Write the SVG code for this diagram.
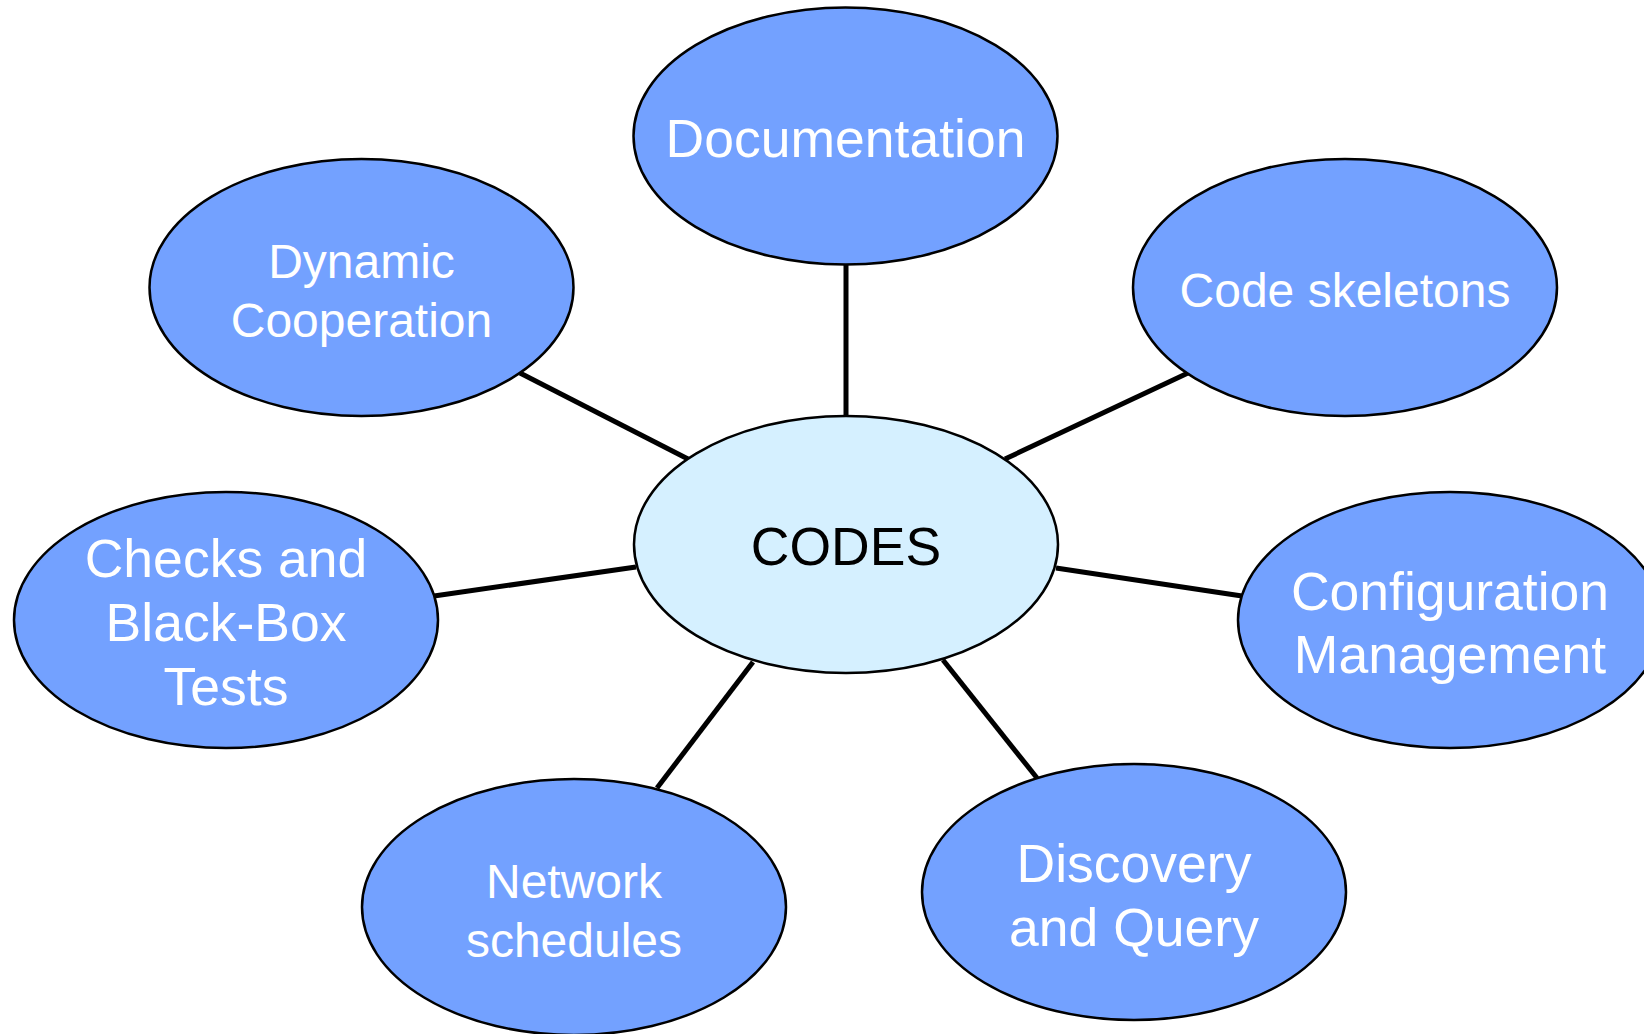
<svg xmlns="http://www.w3.org/2000/svg" width="1644" height="1034" viewBox="0 0 1644 1034">
<style>
.n{fill:#73a1ff;stroke:#000;stroke-width:2.5}
.c{fill:#d5f0ff;stroke:#000;stroke-width:2.5}
.t{font-family:"Liberation Sans",Arial,sans-serif;fill:#fff;text-anchor:middle}
.tc{font-family:"Liberation Sans",Arial,sans-serif;fill:#000;text-anchor:middle;font-size:53.5px}
.l{stroke:#000;stroke-width:5;fill:none}
</style>
<rect width="1644" height="1034" fill="#fff"/>
<g id="connectors">
<line class="l" x1="846" y1="264" x2="846" y2="417"/>
<line class="l" x1="520" y1="373" x2="688" y2="459"/>
<line class="l" x1="1005" y1="459" x2="1188" y2="373"/>
<line class="l" x1="434" y1="596" x2="636" y2="567"/>
<line class="l" x1="1056" y1="568" x2="1242" y2="596"/>
<line class="l" x1="753" y1="662" x2="657" y2="788"/>
<line class="l" x1="943" y1="660" x2="1037" y2="778"/>
</g>
<g id="documentation">
<ellipse class="n" cx="845.5" cy="136" rx="212" ry="128.5"/>
<text class="t" x="845.5" y="157" font-size="53.5">Documentation</text>
</g>
<g id="codes">
<ellipse class="c" cx="846" cy="544.5" rx="212" ry="128.5"/>
<text class="tc" x="846" y="565">CODES</text>
</g>
<g id="dynamic">
<ellipse class="n" cx="361.5" cy="287.5" rx="212" ry="128.5"/>
<text class="t" x="361.5" y="278" font-size="48">Dynamic</text>
<text class="t" x="361.5" y="337" font-size="48">Cooperation</text>
</g>
<g id="skeletons">
<ellipse class="n" cx="1345" cy="287.5" rx="212" ry="128.5"/>
<text class="t" x="1345" y="307" font-size="48">Code skeletons</text>
</g>
<g id="checks">
<ellipse class="n" cx="226" cy="620" rx="212" ry="128"/>
<text class="t" x="226" y="577" font-size="53.5">Checks and</text>
<text class="t" x="226" y="641" font-size="53.5">Black-Box</text>
<text class="t" x="226" y="705" font-size="53.5">Tests</text>
</g>
<g id="configuration">
<ellipse class="n" cx="1450" cy="620" rx="212" ry="128"/>
<text class="t" x="1450" y="610" font-size="53.5">Configuration</text>
<text class="t" x="1450" y="673" font-size="53.5">Management</text>
</g>
<g id="network">
<ellipse class="n" cx="574" cy="907" rx="212" ry="128"/>
<text class="t" x="574" y="898" font-size="48">Network</text>
<text class="t" x="574" y="957" font-size="48">schedules</text>
</g>
<g id="discovery">
<ellipse class="n" cx="1134" cy="892" rx="212" ry="128"/>
<text class="t" x="1134" y="882" font-size="53.5">Discovery</text>
<text class="t" x="1134" y="946" font-size="53.5">and Query</text>
</g>
</svg>
